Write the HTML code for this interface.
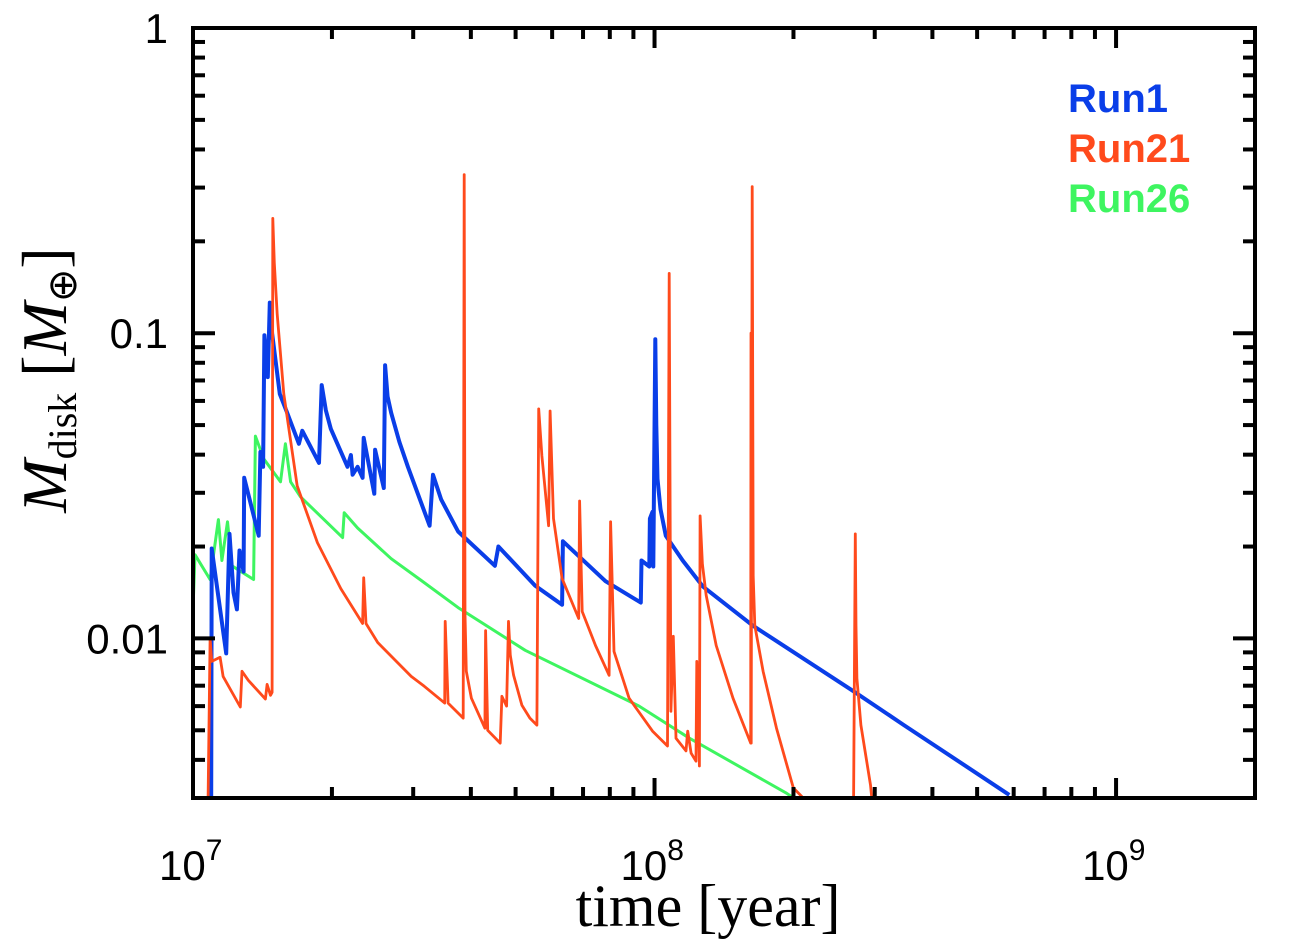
<!DOCTYPE html>
<html><head><meta charset="utf-8"><style>
body{margin:0;background:#fff;}
svg{display:block;}
.tk{font-family:"Liberation Sans",sans-serif;font-size:42px;fill:#000;}
</style></head><body>
<svg id="chart" width="1294" height="949" viewBox="0 0 1294 949" xmlns="http://www.w3.org/2000/svg">
<defs><clipPath id="pc"><rect x="193" y="28" width="1062" height="770"/></clipPath></defs>
<g id="series" clip-path="url(#pc)"></g>
<rect x="193" y="28" width="1062" height="770" fill="none" stroke="#000" stroke-width="4"/>
<g id="ticks"></g>
<g id="labels"></g>
<text x="708" y="926" text-anchor="middle" font-family="Liberation Serif,serif" font-size="60">time [year]</text>
<text transform="translate(66,380) rotate(-90)" text-anchor="middle" font-family="Liberation Serif,serif" font-size="64"><tspan font-style="italic">M</tspan><tspan font-size="40" dy="10">disk</tspan><tspan dy="-10"> [</tspan><tspan font-style="italic">M</tspan><tspan font-size="40" dy="10">⊕</tspan><tspan dy="-10">]</tspan></text>
<g font-family="Liberation Sans,sans-serif" font-weight="bold" font-size="40">
<text x="1068" y="112" fill="#0a3ee8">Run1</text>
<text x="1068" y="162" fill="#ff4a1c">Run21</text>
<text x="1068" y="212" fill="#3ef560">Run26</text>
</g>
</svg>
<script>
// time in Myr, mass in Earth masses
const run1T=[10.95,10.98,11.8,12.0,12.24,12.45,12.61,12.87,12.91,13.88,14.0,14.19,14.28,14.52,14.67,14.84,15.42,16.0,16.96,17.25,18.75,19.0,19.4,19.89,21.62,21.98,22.17,22.73,23.31,23.43,24.71,24.8,25.91,26.08,26.4,26.88,28.0,29.22,32.55,33.11,34.5,37.54,45.1,45.9,55.1,63.05,63.3,78.3,93.4,93.7,97.4,97.7,99.0,99.4,100.4,100.9,101.5,103.0,105.8,115.1,127.2,163.5,270,347,587];
const run1M=[0.003,0.0197,0.00893,0.022,0.01413,0.01245,0.01941,0.01656,0.0336,0.0217,0.0408,0.0365,0.0984,0.0718,0.126,0.1,0.0632,0.0548,0.0434,0.0479,0.0376,0.0676,0.056,0.0486,0.0365,0.0399,0.0344,0.0365,0.0336,0.0454,0.0298,0.0415,0.0311,0.0785,0.062,0.0548,0.044,0.0365,0.0234,0.0344,0.0285,0.0224,0.0173,0.02,0.0149,0.0129,0.0208,0.0154,0.0131,0.018,0.0172,0.0247,0.026,0.0172,0.0955,0.05,0.0333,0.0265,0.0217,0.018,0.0148,0.011,0.00671,0.0052,0.00307];
const run21T=[10.78,10.89,10.98,11.45,11.62,12.66,12.77,13.18,14.35,14.47,14.72,14.84,14.89,15.0,15.22,15.73,16.82,18.6,20.9,23.31,23.43,23.7,25.13,29.7,31.7,35.1,35.2,35.7,38.5,38.7,38.85,39.1,40.1,42.9,43.05,43.5,46.3,46.7,47.8,48.25,48.7,49.5,51.6,53.7,55.6,56.1,57.0,58.96,59.4,60.4,63.05,68.5,68.8,69.7,74.5,79.7,80.3,81.7,88.1,99.0,106.7,107.6,108.5,109.8,111.3,117.0,118.0,120.0,123.0,123.5,125.1,125.5,127.0,129.4,136.0,147.9,161.6,161.8,162.0,162.8,163.6,164.9,171.9,183.8,199.8,210,null,270,272.3,273.2,274.5,280,293.7,295.6];
const run21M=[0.003,0.01,0.00841,0.00867,0.00751,0.00596,0.0078,0.00729,0.00633,0.00707,0.00651,0.00666,0.2377,0.17,0.1153,0.0632,0.0316,0.0206,0.01456,0.01119,0.0158,0.01119,0.0097,0.00751,0.00697,0.00614,0.01137,0.00614,0.00548,0.331,0.012,0.0078,0.00637,0.00508,0.0106,0.005,0.00454,0.00646,0.006,0.01137,0.0088,0.00757,0.00604,0.00548,0.0052,0.0565,0.0396,0.0234,0.0556,0.0247,0.0157,0.01162,0.0282,0.01225,0.00948,0.00757,0.0241,0.00907,0.00637,0.00497,0.00444,0.157,0.00577,0.01016,0.00471,0.00428,0.00497,0.00421,0.00396,0.00841,0.00382,0.0252,0.0175,0.01383,0.00948,0.00637,0.00454,0.1,0.00454,0.302,0.016,0.01102,0.0078,0.00508,0.00324,0.003,null,0.003,0.022,0.011,0.0074,0.0052,0.00331,0.003];
const run26T=[10,10.1,10.89,11.35,11.55,11.88,12.14,13.53,13.65,14.23,15.47,15.86,16.27,17.1,19.22,21.09,21.26,22.73,26.88,31.24,37.54,52.45,92.6,119,193.2,200];
const run26M=[0.0125,0.0188,0.0156,0.0245,0.018,0.0241,0.0173,0.0156,0.046,0.0388,0.0326,0.0434,0.0326,0.0291,0.0245,0.0214,0.0258,0.023,0.01825,0.01548,0.01262,0.00914,0.006,0.00471,0.00311,0.003];
const xTickExp=[7,8,9];
const yTickVals=[1,0.1,0.01];
const yTickLabels=["1","0.1","0.01"];

const L=193,R=1255,T=28,B=798;
const xMin=7,xMax=Math.log10(2e9),yMin=Math.log10(0.003),yMax=0;
function X(tMyr){return L+(Math.log10(tMyr*1e6)-xMin)/(xMax-xMin)*(R-L);}
function XL(lg){return L+(lg-xMin)/(xMax-xMin)*(R-L);}
function Y(m){return B-(Math.log10(m)-yMin)/(yMax-yMin)*(B-T);}
const NS="http://www.w3.org/2000/svg";
const sg=document.getElementById('series');
function drawLine(ts,ms,color,w,name){
  let d="",pen=false;
  for(let i=0;i<ts.length;i++){
    if(ts[i]===null){pen=false;continue;}
    d+=(pen?"L":"M")+X(ts[i]).toFixed(1)+","+Y(ms[i]).toFixed(1);pen=true;
  }
  const p=document.createElementNS(NS,'path');
  p.setAttribute('d',d);p.setAttribute('fill','none');p.setAttribute('stroke',color);
  p.setAttribute('stroke-width',w);p.setAttribute('stroke-linejoin','round');
  
  
  sg.appendChild(p);
}
drawLine(run26T,run26M,'#3ef560',3,'run26-line');
drawLine(run1T,run1M,'#0a3ee8',4,'run1-line');
drawLine(run21T,run21M,'#ff4a1c',2.8,'run21-line');

const tg=document.getElementById('ticks');
function tick(x1,y1,x2,y2){
  const l=document.createElementNS(NS,'line');
  l.setAttribute('x1',x1);l.setAttribute('y1',y1);l.setAttribute('x2',x2);l.setAttribute('y2',y2);
  l.setAttribute('stroke','#000');l.setAttribute('stroke-width',4);
  
  
  tg.appendChild(l);
}
for(let e=7;e<=9;e++){for(let k=1;k<=9;k++){
  const lg=e+Math.log10(k);if(lg>xMax+1e-9)break;
  const x=XL(lg),len=k===1?20:11;
  tick(x,B,x,B-len);tick(x,T,x,T+len);
}}
for(let e=-3;e<=0;e++){for(let k=1;k<=9;k++){
  const m=k*Math.pow(10,e);if(m<0.003-1e-9||m>1+1e-9)continue;
  const y=Y(m),len=k===1?22:12;
  tick(L,y,L+len,y);tick(R,y,R-len,y);
}}
const lg=document.getElementById('labels');
yTickVals.forEach((v,i)=>{
  const t=document.createElementNS(NS,'text');
  t.setAttribute('x',168);t.setAttribute('y',Y(v)+15);t.setAttribute('text-anchor','end');
  t.setAttribute('class','tk');t.textContent=yTickLabels[i];
  
  
  lg.appendChild(t);
});
xTickExp.forEach(e=>{
  const t=document.createElementNS(NS,'text');
  t.setAttribute('x',XL(e)-34);t.setAttribute('y',880);t.setAttribute('text-anchor','start');
  t.setAttribute('class','tk');
  t.innerHTML='10<tspan font-size="30" dy="-20">'+e+'</tspan>';
  
  
  lg.appendChild(t);
});
</script>
</body></html>
